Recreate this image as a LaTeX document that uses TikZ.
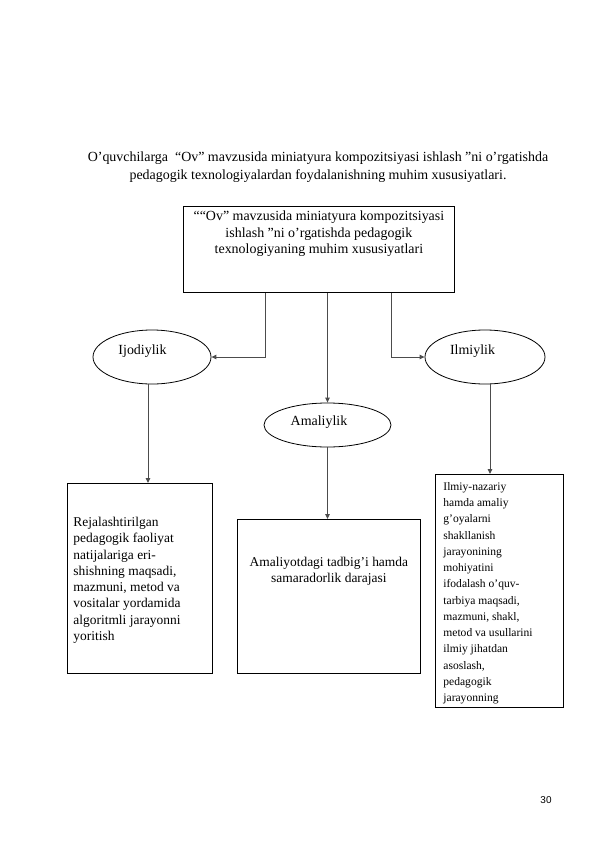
\documentclass[tikz,border=0pt]{standalone}
\usepackage{fontspec}
\setmainfont{Liberation Serif}
\newfontfamily\pagenumfont{Liberation Sans}
\usetikzlibrary{shapes.geometric, arrows.meta}

\begin{document}
\begin{tikzpicture}[
        x=1bp, y=-1bp,
        txt/.style={font=\fontsize{13.5}{16.3}\selectfont},
        bigtxt/.style={font=\fontsize{14}{17}\selectfont},
        box/.style={rectangle, draw, line width=0.8bp, inner sep=0pt, anchor=north west, txt},
        oval/.style={ellipse, draw, line width=0.8bp, inner sep=0pt, label distance=0pt},
        arrow/.style={-{Triangle[length=5bp, width=4.5bp]}, draw=black!70, line width=1bp}
    ]

    \useasboundingbox (0,0) rectangle (595,842);

    \node[align=center, font=\fontsize{14}{18.5}\selectfont] (title) at (318,167) {O’quvchilarga ~“Ov” mavzusida miniatyura kompozitsiyasi ishlash ”ni o’rgatishda\\pedagogik texnologiyalardan foydalanishning muhim xususiyatlari.};

    \node[box, bigtxt, minimum width=271bp, minimum height=86bp] (head) at (183,206) {\parbox[c][86bp][t]{265bp}{\centering\vspace*{4bp}
        ““Ov” mavzusida miniatyura kompozitsiyasi\\
        ishlash ”ni o’rgatishda pedagogik\\
        texnologiyaning muhim xususiyatlari}};

    \node[oval, minimum width=118bp, minimum height=54bp, label={[bigtxt, xshift=-9.5bp, yshift=6bp]center:Ijodiylik}] (ijod) at (152,357) {};
    \node[oval, minimum width=120bp, minimum height=54bp, label={[bigtxt, xshift=-12.5bp, yshift=6bp]center:Ilmiylik}] (ilm) at (485,357) {};
    \node[oval, minimum width=127bp, minimum height=44bp, label={[bigtxt, xshift=-8.5bp, yshift=3bp]center:Amaliylik}] (amal) at (327.5,425) {};

    \node[box, minimum width=145bp, minimum height=190bp] (plan) at (67,483) {\parbox[c][190bp][t]{133bp}{\raggedright\vspace*{34bp}
        Rejalashtirilgan\\
        pedagogik faoliyat\\
        natijalariga eri-\\
        shishning maqsadi,\\
        mazmuni, metod va\\
        vositalar yordamida\\
        algoritmli jarayonni\\
        yoritish}};

    \node[box, minimum width=183bp, minimum height=154bp] (prac) at (237,519) {\parbox[c][154bp][t]{177bp}{\centering\vspace*{38bp}
        Amaliyotdagi tadbig’i hamda\\
        samaradorlik darajasi}};

    \node[box, font=\fontsize{11.6}{16.3}\selectfont, minimum width=128bp, minimum height=233bp] (theory) at (435,474) {\parbox[c][233bp][t]{112bp}{\raggedright\vspace*{8bp}
        Ilmiy-nazariy\\
        hamda amaliy\\
        g’oyalarni\\
        shakllanish\\
        jarayonining\\
        mohiyatini\\
        ifodalash o’quv-\\
        tarbiya maqsadi,\\
        mazmuni, shakl,\\
        metod va usullarini\\
        ilmiy jihatdan\\
        asoslash,\\
        pedagogik\\
        jarayonning}};

    \node[font=\pagenumfont\fontsize{10}{12}\selectfont] (pagenum) at (546,800) {30};

    \draw[arrow] ([xshift=-53.5bp]head.south) |- (ijod.east);
    \draw[arrow] (head.south -| amal.north) -- (amal.north);
    \draw[arrow] ([xshift=72.5bp]head.south) |- (ilm.west);
    \draw[arrow] ([xshift=-4bp]ijod.south) -- ([xshift=-4bp]ijod.south |- plan.north);
    \draw[arrow] (amal.south) -- (amal.south |- prac.north);
    \draw[arrow] ([xshift=5bp]ilm.south) -- ([xshift=5bp]ilm.south |- theory.north);

\end{tikzpicture}
\end{document}
